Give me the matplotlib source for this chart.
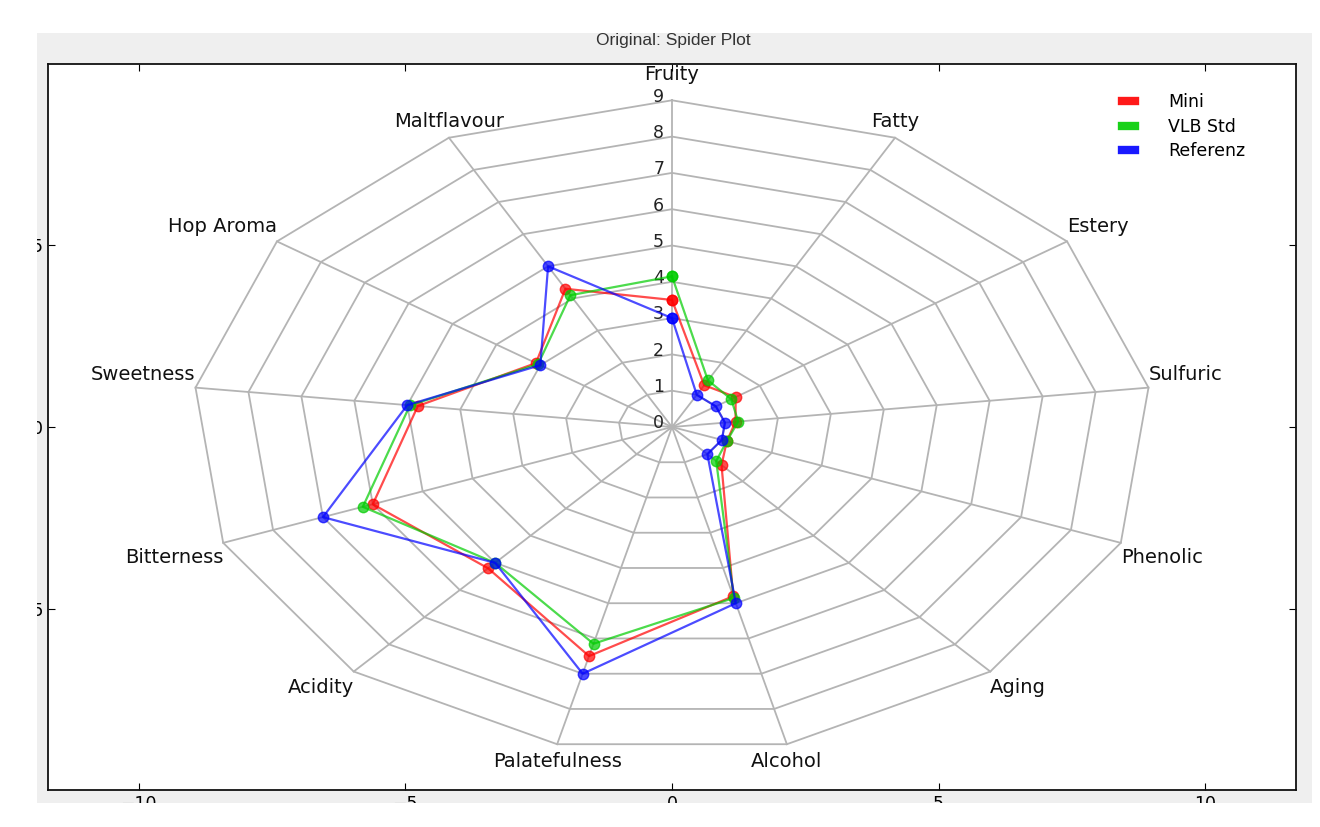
import numpy as np
import matplotlib
matplotlib.use("Agg")
import matplotlib.pyplot as plt
from matplotlib.lines import Line2D
from matplotlib.patches import Rectangle

# 13 个评价维度（顺时针，从顶部开始）
categories = ["Fruity", "Fatty", "Estery", "Sulfuric", "Phenolic", "Aging",
              "Alcohol", "Palatefulness", "Acidity", "Bitterness", "Sweetness",
              "Hop Aroma", "Maltflavour"]

# 各样品得分
mini = [3.5, 1.3, 1.45, 1.2, 1.1, 1.4, 4.8, 6.5, 5.2, 6.0, 4.8, 3.1, 4.3]
vlb_std = [4.15, 1.45, 1.35, 1.25, 1.1, 1.25, 4.85, 6.15, 5.0, 6.2, 4.95, 3.05, 4.1]
referenz = [3.0, 1.0, 1.0, 1.0, 1.0, 1.0, 5.0, 7.0, 5.0, 7.0, 5.0, 3.0, 5.0]

series_names = ["Mini", "VLB Std", "Referenz"]
series_colors = ["#ff0000", "#00cc00", "#0000ff"]

ring_levels = [1, 2, 3, 4, 5, 6, 7, 8, 9]
tick_numbers = [0, 1, 2, 3, 4, 5, 6, 7, 8, 9]

W, H = 1320, 827
fig = plt.figure(figsize=(W / 100, H / 100), dpi=100)
fig.patch.set_facecolor("white")

# 窗口背景（浅灰区域）
fig.add_artist(Rectangle((37 / W, 1 - 803 / H), (1312 - 37) / W, (803 - 33) / H,
                         transform=fig.transFigure, facecolor="#efefef",
                         edgecolor="none", zorder=-5))

ax = fig.add_axes([48 / W, 1 - 790 / H, (1296 - 48) / W, (790 - 64) / H])
ax.set_facecolor("white")
ax.set_xlim(-11.7, 11.7)
ax.set_ylim(-10, 10)
ax.set_xticks([-10, -5, 0, 5, 10])
ax.set_yticks([-5, 0, 5])
ax.tick_params(direction="in", top=True, right=True, length=5, labelsize=12.5)
for s in ax.spines.values():
    s.set_linewidth(1.3)
    s.set_color("#111111")

n = len(categories)
angles = np.pi / 2 - np.arange(n) * 2 * np.pi / n
closed = np.append(angles, angles[0])
r_max = ring_levels[-1]

grid_color = "#b4b4b4"
# 网格：同心多边形 + 辐条
for r in ring_levels:
    ax.plot(r * np.cos(closed), r * np.sin(closed), color=grid_color, lw=1.3, zorder=1)
for a in angles:
    ax.plot([0, r_max * np.cos(a)], [0, r_max * np.sin(a)],
            color=grid_color, lw=1.3, zorder=1)

# 刻度数字
for v in tick_numbers:
    ax.text(-0.25, v + 0.1, str(v), ha="center", va="center", fontsize=12.5,
            color="#222222", zorder=2)

# 维度标签：放在最外圈顶点外侧
for name, a in zip(categories, angles):
    c, s = np.cos(a), np.sin(a)
    if c > 0.5:
        ha = "left"
    elif c < -0.5:
        ha = "right"
    else:
        ha = "center"
    dy = 0.35 + 0.12 * abs(s)
    if abs(c) < 0.1:
        dy += 0.25  # 顶部标签让开刻度数字
    y = r_max * s + np.sign(s) * dy
    ax.text(r_max * c, y, name, ha=ha, va="center", fontsize=14,
            color="#111111", zorder=2)

# 数据
for vals, col in zip([mini, vlb_std, referenz], series_colors):
    v = np.append(vals, vals[0])
    ax.plot(v * np.cos(closed), v * np.sin(closed), color=col, lw=1.6, alpha=0.7,
            marker="o", markersize=7.5, markeredgecolor=col, zorder=3)

handles = [Line2D([], [], color=col, lw=6, alpha=0.9) for col in series_colors]
ax.legend(handles, series_names, loc="upper left", bbox_to_anchor=(0.854, 0.972),
          frameon=False, fontsize=12.5, handlelength=0.75, handletextpad=1.9,
          labelspacing=0.38, borderpad=0)

fig.text(673 / W, 1 - 40 / H, "Original: Spider Plot", ha="center", va="center",
         fontsize=12.5, color="#333333",
         family=["Liberation Sans Narrow", "Liberation Sans", "DejaVu Sans"])

# 截图边缘遮挡（坐标轴刻度标签被截断）
fig.add_artist(Rectangle((0, 0), 1, 24 / H, transform=fig.transFigure,
                         facecolor="white", edgecolor="none", zorder=10))
fig.add_artist(Rectangle((0, 0), 37 / W, 1, transform=fig.transFigure,
                         facecolor="white", edgecolor="none", zorder=10))
fig.add_artist(Rectangle((0, 1 - 10 / H), 1, 10 / H, transform=fig.transFigure,
                         facecolor="white", edgecolor="none", zorder=10))

fig.savefig("out.png", dpi=100, facecolor=fig.get_facecolor())
